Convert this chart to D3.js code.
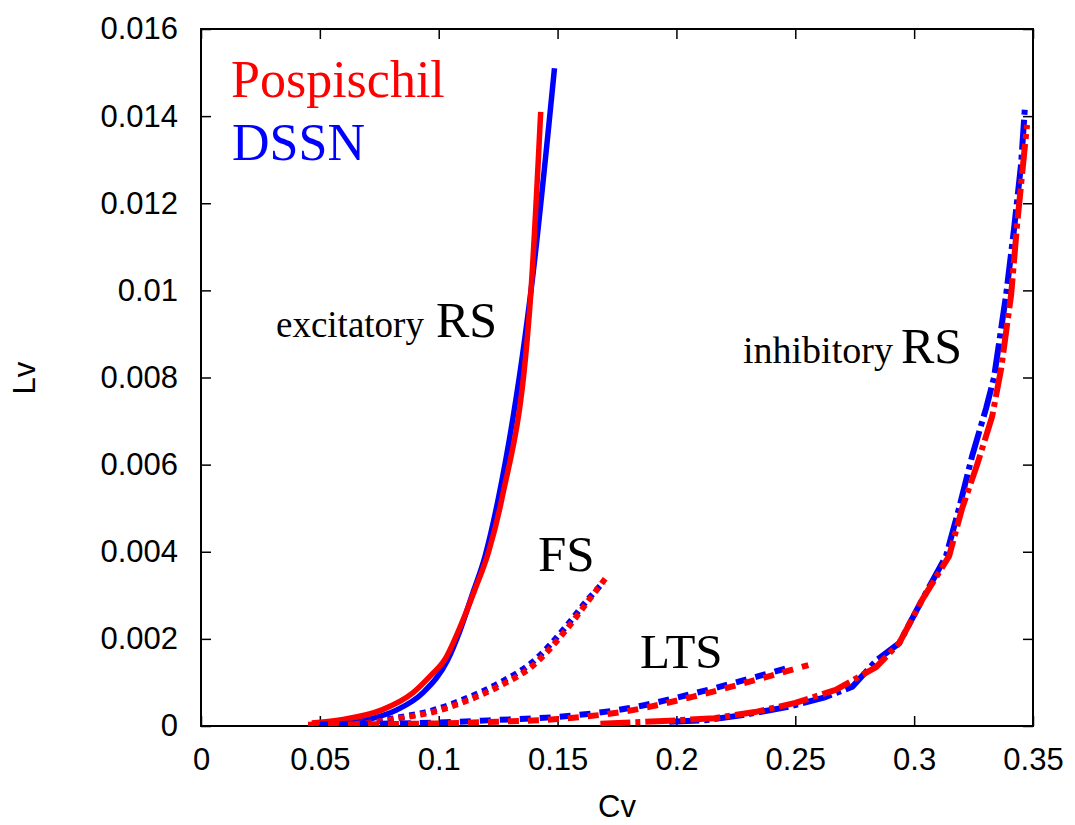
<!DOCTYPE html>
<html>
<head>
<meta charset="utf-8">
<script src="https://cdn.jsdelivr.net/npm/d3@7/dist/d3.min.js"></script>
<style>
  html, body { margin: 0; padding: 0; background: #fff; }
  svg { display: block; }
</style>
</head>
<body>
<svg id="chart" width="1075" height="825"></svg>
<script>
// ---------------- data (Cv, Lv) ----------------
const xTicks = [0, 0.05, 0.1, 0.15, 0.2, 0.25, 0.3, 0.35];
const xTickLabels = ["0", "0.05", "0.1", "0.15", "0.2", "0.25", "0.3", "0.35"];
const yTicks = [0, 0.002, 0.004, 0.006, 0.008, 0.01, 0.012, 0.014, 0.016];
const yTickLabels = ["0", "0.002", "0.004", "0.006", "0.008", "0.01", "0.012", "0.014", "0.016"];

const excRS_Pospischil = [[0.0466,0.00007],[0.0584,0.00014],[0.0761,0.00037],[0.0891,0.00076],[0.0965,0.00115],[0.1025,0.00152],[0.1092,0.0023],[0.1150,0.0031],[0.1210,0.0040],[0.1265,0.0052],[0.1387,0.0099],[0.1429,0.0141]];
const excRS_DSSN = [[0.054,0.00002],[0.0697,0.00014],[0.0824,0.00037],[0.0933,0.00076],[0.1038,0.00152],[0.1090,0.0022],[0.1140,0.0030],[0.1195,0.0039],[0.1250,0.0052],[0.1395,0.0103],[0.1487,0.0151]];

const FS_Pospischil = [[0.0555,0.00002],[0.0697,0.00007],[0.0836,0.00018],[0.0975,0.00032],[0.1118,0.00058],[0.1256,0.00092],[0.1395,0.00138],[0.1538,0.00222],[0.1622,0.00282],[0.1706,0.00342]];
const FS_DSSN = [[0.0555,0.00003],[0.0697,0.00009],[0.0836,0.0002],[0.0975,0.00036],[0.1118,0.00064],[0.1256,0.00099],[0.1395,0.00147],[0.1538,0.0023],[0.1622,0.00287],[0.1693,0.0033]];

const LTS_Pospischil = [[0.045,0.00003],[0.07,0.00004],[0.1,0.00006],[0.125,0.0001],[0.15,0.00016],[0.179,0.00034],[0.2067,0.00067],[0.2349,0.00108],[0.2555,0.0014]];
const LTS_DSSN = [[0.05,0.00004],[0.07,0.00005],[0.1,0.00008],[0.125,0.00014],[0.15,0.00021],[0.179,0.0004],[0.2067,0.00074],[0.2349,0.00115],[0.2466,0.00133]];

const inhRS_Pospischil = [[0.168,0.00005],[0.185,0.00009],[0.2,0.00013],[0.216,0.00018],[0.233,0.00032],[0.25,0.00053],[0.267,0.00083],[0.284,0.00135],[0.2937,0.0019],[0.3034,0.0029],[0.3147,0.0039],[0.3202,0.005],[0.3265,0.006],[0.3328,0.0071],[0.3366,0.0082],[0.3408,0.0099],[0.3433,0.0115],[0.3462,0.0131],[0.3475,0.0138]];
const inhRS_DSSN = [[0.197,0.0001],[0.212,0.00013],[0.228,0.00025],[0.247,0.00044],[0.262,0.00065],[0.274,0.0009],[0.284,0.0015],[0.2937,0.0019],[0.3034,0.0029],[0.3134,0.0039],[0.3189,0.005],[0.3244,0.0062],[0.3303,0.0073],[0.3336,0.008],[0.3387,0.0099],[0.342,0.0114],[0.345,0.0129],[0.3466,0.0142]];

// ---------------- layout ----------------
const L = 201, R = 1033, T = 29, B = 726;
const RED = "#ff0000", BLUE = "#0000ff";

const svg = d3.select("#chart");
const x = d3.scaleLinear().domain([0, 0.35]).range([L, R]);
const y = d3.scaleLinear().domain([0, 0.016]).range([B, T]);

const tickFont = "'Liberation Sans', Arial, Helvetica, sans-serif";
const serif = "'Liberation Serif', 'Times New Roman', serif";

// axes
const gx = svg.append("g").attr("transform", `translate(0,${B})`)
  .call(d3.axisBottom(x).tickValues(xTicks).tickFormat((d, i) => xTickLabels[i]).tickSize(-10).tickPadding(22));
const gy = svg.append("g").attr("transform", `translate(${L},0)`)
  .call(d3.axisLeft(y).tickValues(yTicks).tickFormat((d, i) => yTickLabels[i]).tickSize(-10).tickPadding(23));
const gt = svg.append("g").attr("transform", `translate(0,${T})`)
  .call(d3.axisTop(x).tickValues(xTicks).tickFormat("").tickSize(-10));
const gr = svg.append("g").attr("transform", `translate(${R},0)`)
  .call(d3.axisRight(y).tickValues(yTicks).tickFormat("").tickSize(-10));

[gx, gy, gt, gr].forEach(g => {
  g.select(".domain").remove();
  g.selectAll(".tick line").attr("stroke", "#000").attr("stroke-width", 1.5);
  g.selectAll(".tick text").attr("fill", "#000").style("font-family", tickFont).style("font-size", "31px");
});

// frame
svg.append("rect").attr("x", L).attr("y", T).attr("width", R - L).attr("height", B - T)
  .attr("fill", "none").attr("stroke", "#000").attr("stroke-width", 2);

// axis titles
svg.append("text").attr("x", 617).attr("y", 817).attr("text-anchor", "middle")
  .style("font-family", tickFont).style("font-size", "31px").text("Cv");
svg.append("text").attr("transform", "translate(35,378) rotate(-90)").attr("text-anchor", "middle")
  .style("font-family", tickFont).style("font-size", "31px").text("Lv");

// lines
const smooth = d3.line().x(d => x(d[0])).y(d => y(d[1])).curve(d3.curveMonotoneX);
const straight = d3.line().x(d => x(d[0])).y(d => y(d[1]));

svg.append("clipPath").attr("id", "plotclip").append("rect")
  .attr("x", L).attr("y", T).attr("width", R - L).attr("height", B - T);
const plot = svg.append("g").attr("clip-path", "url(#plotclip)");

const series = [
  { data: excRS_DSSN, color: BLUE, gen: smooth, dash: null, w: 5.5 },
  { data: excRS_Pospischil, color: RED, gen: smooth, dash: null, w: 5.5 },
  { data: FS_DSSN, color: BLUE, gen: smooth, dash: "6,5", w: 6 },
  { data: FS_Pospischil, color: RED, gen: smooth, dash: "6,5", w: 6 },
  { data: LTS_DSSN, color: BLUE, gen: smooth, dash: "11,9", w: 6 },
  { data: LTS_Pospischil, color: RED, gen: smooth, dash: "11,9", w: 6 },
  { data: inhRS_DSSN, color: BLUE, gen: straight, dash: "30,5,5,5", w: 6 },
  { data: inhRS_Pospischil, color: RED, gen: straight, dash: "30,5,5,5", w: 6 }
];
series.forEach(s => {
  const p = plot.append("path").attr("d", s.gen(s.data)).attr("fill", "none")
    .attr("stroke", s.color).attr("stroke-width", s.w).attr("stroke-linejoin", "round");
  if (s.dash) p.attr("stroke-dasharray", s.dash);
});

// legend text
svg.append("text").attr("x", 231).attr("y", 97).attr("fill", RED)
  .style("font-family", serif).style("font-size", "52px").text("Pospischil");
svg.append("text").attr("x", 232).attr("y", 160).attr("fill", BLUE)
  .style("font-family", serif).style("font-size", "52px").text("DSSN");

// annotations
const ann1 = svg.append("text").attr("x", 276).attr("y", 337).style("font-family", serif).attr("fill", "#000");
ann1.append("tspan").style("font-size", "37px").text("excitatory");
ann1.append("tspan").style("font-size", "50px").attr("dx", 12).text("RS");

const ann2 = svg.append("text").attr("x", 743).attr("y", 363).style("font-family", serif).attr("fill", "#000");
ann2.append("tspan").style("font-size", "38px").text("inhibitory");
ann2.append("tspan").style("font-size", "50px").attr("dx", 8).text("RS");

svg.append("text").attr("x", 538).attr("y", 571).style("font-family", serif).style("font-size", "51px").text("FS");
svg.append("text").attr("x", 640).attr("y", 668).style("font-family", serif).style("font-size", "49px").text("LTS");
</script>
</body>
</html>
